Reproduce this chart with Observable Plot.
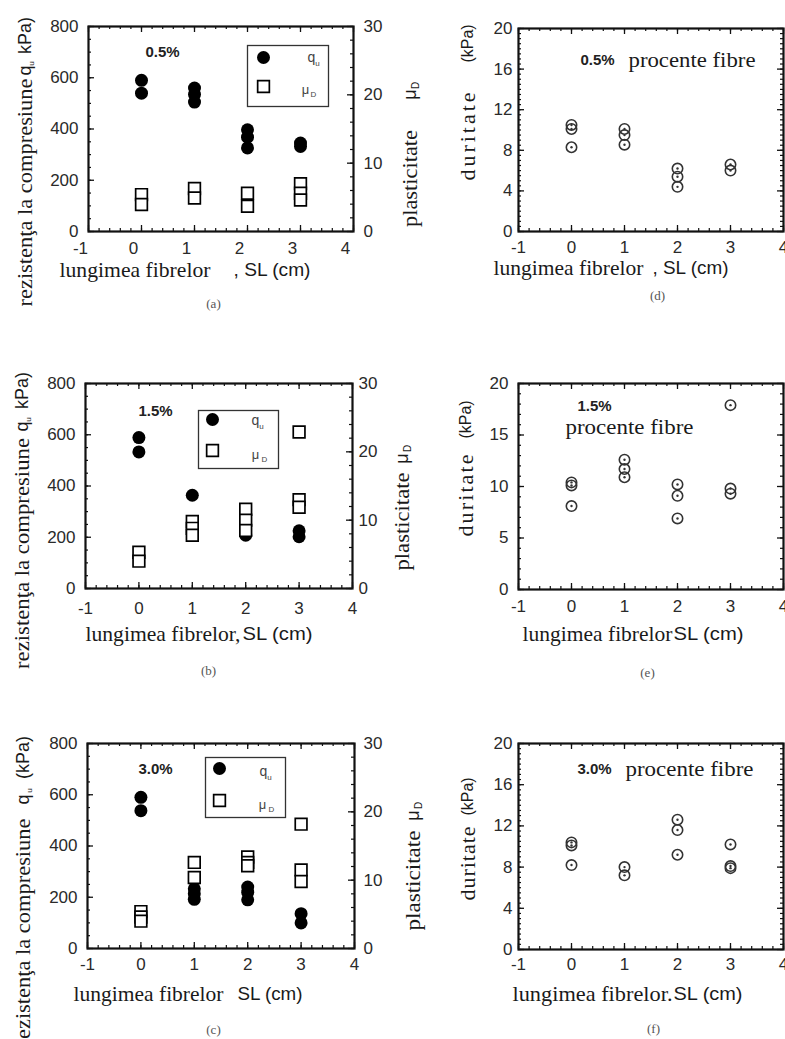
<!DOCTYPE html>
<html><head><meta charset="utf-8">
<script src="https://cdn.jsdelivr.net/npm/d3@7"></script>
<script src="https://cdn.jsdelivr.net/npm/@observablehq/plot@0.6"></script>
<style>
html,body{margin:0;padding:0;background:#fff;}
#root{position:relative;width:785px;height:1039px;overflow:hidden;background:#fff;}
#root svg{position:absolute;}
</style></head><body><div id="root"></div>
<script>
// ---------- tick labels ----------
const xTickLabels = [-1, 0, 1, 2, 3, 4];
const quTicks = [0, 200, 400, 600, 800];
const muTicks = [0, 10, 20, 30];
const durTicks4 = [0, 4, 8, 12, 16, 20];
const durTicks5 = [0, 5, 10, 15, 20];

// ---------- (a) 0.5 % fibre ----------
const a_qu_sl = [0, 0, 1, 1, 1, 2, 2, 2, 3, 3];
const a_qu    = [590, 540, 560, 535, 505, 397, 368, 326, 345, 332];
const a_mu_sl = [0, 0, 1, 1, 2, 2, 3, 3, 3];
const a_mu    = [5.4, 3.95, 6.3, 4.9, 5.6, 3.7, 7.0, 5.6, 4.6];
// ---------- (b) 1.5 % fibre ----------
const b_qu_sl = [0, 0, 1, 2, 3, 3];
const b_qu    = [589, 533, 364, 208, 225, 202];
const b_mu_sl = [0, 0, 1, 1, 1, 2, 2, 2, 3, 3, 3];
const b_mu    = [5.3, 4.0, 9.8, 8.8, 7.8, 11.6, 10.0, 8.5, 22.9, 13.0, 11.9];
// ---------- (c) 3.0 % fibre ----------
const c_qu_sl = [0, 0, 1, 1, 1, 2, 2, 2, 3, 3];
const c_qu    = [590, 538, 233, 214, 192, 240, 220, 190, 136, 100];
const c_mu_sl = [0, 0, 0, 1, 1, 2, 2, 2, 3, 3, 3];
const c_mu    = [5.4, 4.6, 4.0, 12.6, 10.4, 13.4, 12.6, 12.1, 18.2, 11.5, 9.8];
// ---------- duritate (d) (e) (f) ----------
const d_sl  = [0, 0, 0, 1, 1, 1, 2, 2, 2, 3, 3];
const d_dur = [10.5, 10.1, 8.3, 10.1, 9.5, 8.55, 6.2, 5.4, 4.4, 6.6, 6.0];
const e_sl  = [0, 0, 0, 1, 1, 1, 2, 2, 2, 3, 3, 3];
const e_dur = [10.4, 10.1, 8.1, 12.6, 11.7, 10.9, 10.2, 9.1, 6.9, 17.9, 9.8, 9.3];
const f_sl  = [0, 0, 0, 1, 1, 2, 2, 2, 3, 3, 3];
const f_dur = [10.4, 10.1, 8.2, 8.0, 7.2, 12.6, 11.6, 9.2, 10.2, 8.1, 7.9];

const rows = (sl, v) => sl.map((s, i) => ({sl: s, v: v[i]}));

const SERIF = "Liberation Serif, 'Times New Roman', serif";
const SANS = "Liberation Sans, Arial, sans-serif";
const root = document.getElementById("root");
const MU_K = 800 / 30;

function sub(s, x, y, fs, extra = {}) { return {s, x, y, f: SANS, fs, c: "#444", ...extra}; }

const panels = [
  {ox: 0, oy: 0, W: 440, H: 320, ML: 88, MR: 87, MT: 26, MB: 89, kind: "qu",
   qu: rows(a_qu_sl, a_qu), mu: rows(a_mu_sl, a_mu), xdx: -8, xPad: 10, yPad: 10, rPad: 10,
   legend: {x0: 247, x1: 328, y0: 45, y1: 106, cx: 263, cy: 57, sy: 86},
   labels: [
     {s: "0.5%", x: 162, y: 52, f: SANS, fs: 15, w: "bold", c: "#222"},
     sub("q", 311, 57, 14), sub("u", 317, 63, 8), sub("μ", 305, 89, 13), sub("D", 313, 94, 8),
     {s: "rezistenţa la compresiune", x: 25, y: 192, r: -90, len: 228},
     {s: "q", x: 25, y: 70, f: SANS, fs: 18, r: -90},
     {s: "u", x: 31, y: 63, f: SANS, fs: 8, r: -90},
     {s: "kPa)", x: 25, y: 35, f: SANS, fs: 18, r: -90},
     {s: "plasticitate", x: 410, y: 178, r: -90, len: 97},
     {s: "μ", x: 410, y: 94, f: SANS, fs: 18, r: -90},
     {s: "D", x: 415, y: 85, f: SANS, fs: 10, r: -90},
     {s: "lungimea fibrelor", x: 134.5, y: 270, len: 151},
     {s: ", SL (cm)", x: 271.5, y: 269, f: SANS, fs: 19, len: 77},
     {s: "(a)", x: 213, y: 303, fs: 13, c: "#555"}
   ]},
  {ox: 0, oy: 340, W: 440, H: 340, ML: 85, MR: 88, MT: 43, MB: 92, kind: "qu",
   qu: rows(b_qu_sl, b_qu), mu: rows(b_mu_sl, b_mu), xdx: 0, xPad: 13, yPad: 10, rPad: 6,
   legend: {x0: 198, x1: 278, y0: 410, y1: 468, cx: 212, cy: 419, sy: 450},
   labels: [
     {s: "1.5%", x: 155, y: 411, f: SANS, fs: 15, w: "bold", c: "#222"},
     sub("q", 255, 420, 14), sub("u", 261, 426, 8), sub("μ", 255, 454, 13), sub("D", 264, 459, 8),
     {s: "rezistenţa la compresiune", x: 22, y: 553, r: -90, len: 231},
     {s: "q", x: 22, y: 426, f: SANS, fs: 18, r: -90},
     {s: "u", x: 28, y: 419, f: SANS, fs: 8, r: -90},
     {s: "kPa)", x: 22, y: 390, f: SANS, fs: 18, r: -90},
     {s: "plasticitate", x: 402, y: 521, r: -90, len: 98},
     {s: "μ", x: 402, y: 458, f: SANS, fs: 18, r: -90},
     {s: "D", x: 407, y: 448, f: SANS, fs: 10, r: -90},
     {s: "lungimea fibrelor,", x: 162.5, y: 634, len: 155},
     {s: "SL (cm)", x: 277, y: 633, f: SANS, fs: 19, len: 70},
     {s: "(b)", x: 208, y: 670, fs: 13, c: "#555"}
   ]},
  {ox: 0, oy: 700, W: 440, H: 339, ML: 87, MR: 86, MT: 43, MB: 91, kind: "qu",
   qu: rows(c_qu_sl, c_qu), mu: rows(c_mu_sl, c_mu), xdx: 0, xPad: 9, yPad: 10, rPad: 9,
   legend: {x0: 205, x1: 285, y0: 757, y1: 817, cx: 219, cy: 768, sy: 800},
   labels: [
     {s: "3.0%", x: 155, y: 769, f: SANS, fs: 15, w: "bold", c: "#222"},
     sub("q", 263, 771, 14), sub("u", 269, 777, 8), sub("μ", 262, 804, 13), sub("D", 271, 809, 8),
     {s: "rezistenţa la compresiune", x: 23, y: 932, r: -90, len: 228},
     {s: "q", x: 23, y: 799, f: SANS, fs: 18, r: -90},
     {s: "u", x: 29, y: 790, f: SANS, fs: 8, r: -90},
     {s: "(kPa)", x: 23, y: 757, f: SANS, fs: 18, r: -90},
     {s: "plasticitate", x: 413, y: 880, r: -90, len: 100},
     {s: "μ", x: 413, y: 815, f: SANS, fs: 18, r: -90},
     {s: "D", x: 418, y: 805, f: SANS, fs: 10, r: -90},
     {s: "lungimea fibrelor", x: 148, y: 994, len: 150},
     {s: "SL (cm)", x: 269.5, y: 993, f: SANS, fs: 19, len: 65},
     {s: "(c)", x: 213, y: 1029, fs: 13, c: "#555"}
   ]},
  {ox: 440, oy: 0, W: 345, H: 320, ML: 78, MR: 2, MT: 28, MB: 89, kind: "dur",
   dur: rows(d_sl, d_dur), yTicks: durTicks4, yMinorStep: 0.5, xPad: 9, yPad: 6,
   labels: [
     {s: "0.5%", x: 597, y: 60, f: SANS, fs: 15, w: "bold", c: "#222"},
     {s: "procente fibre", x: 691.5, y: 60, len: 127},
     {s: "duritate", x: 467, y: 136, r: -90, fs: 22, len: 88, adj: "spacing"},
     {s: "(kPa)", x: 467, y: 43, f: SANS, fs: 16, r: -90},
     {s: "lungimea fibrelor", x: 568, y: 268, len: 150},
     {s: ", SL (cm)", x: 690, y: 267, f: SANS, fs: 19, len: 76},
     {s: "(d)", x: 657, y: 295, fs: 13, c: "#555"}
   ]},
  {ox: 440, oy: 340, W: 345, H: 340, ML: 78, MR: 2, MT: 43, MB: 91, kind: "dur",
   dur: rows(e_sl, e_dur), yTicks: durTicks5, yMinorStep: 1, xPad: 10, yPad: 10,
   labels: [
     {s: "1.5%", x: 594, y: 406, f: SANS, fs: 15, w: "bold", c: "#222"},
     {s: "procente fibre", x: 629, y: 427, len: 128},
     {s: "duritate", x: 465, y: 495, r: -90, fs: 22, len: 82, adj: "spacing"},
     {s: "(kPa)", x: 465, y: 419, f: SANS, fs: 16, r: -90},
     {s: "lungimea fibrelor", x: 597, y: 634, len: 150},
     {s: "SL (cm)", x: 708, y: 633, f: SANS, fs: 19, len: 70},
     {s: "(e)", x: 647, y: 672, fs: 13, c: "#555"}
   ]},
  {ox: 440, oy: 700, W: 345, H: 339, ML: 78, MR: 2, MT: 43, MB: 90, kind: "dur",
   dur: rows(f_sl, f_dur), yTicks: durTicks4, yMinorStep: 0.5, xPad: 8, yPad: 6,
   labels: [
     {s: "3.0%", x: 594, y: 769, f: SANS, fs: 15, w: "bold", c: "#222"},
     {s: "procente fibre", x: 689, y: 769, len: 128},
     {s: "duritate", x: 467, y: 863, r: -90, fs: 22, len: 74, adj: "spacing"},
     {s: "(kPa)", x: 467, y: 796, f: SANS, fs: 16, r: -90},
     {s: "lungimea fibrelor.", x: 592, y: 994, len: 160},
     {s: "SL (cm)", x: 707.5, y: 993, f: SANS, fs: 19, len: 69},
     {s: "(f)", x: 653, y: 1028, fs: 13, c: "#555"}
   ]}
];

function makePanel(p) {
  const FW = p.W - p.ML - p.MR, FH = p.H - p.MT - p.MB;
  const lab = t => Plot.text([t.s], {
    frameAnchor: "top-left", dx: t.x - p.ox - p.ML, dy: t.y - p.oy - p.MT,
    text: d => d, fontFamily: t.f || SERIF, fontSize: t.fs || 21,
    fontWeight: t.w || "normal", fill: t.c || "#1a1a1a",
    rotate: t.r || 0, textAnchor: "middle", lineAnchor: "middle"
  });
  const INK = "#111";
  const xMinor = d3.range(-1, 4.0001, 0.2);
  const common = [
    Plot.tickX(xMinor, {x: d => d, insetTop: FH - 3, stroke: INK, strokeWidth: 1.2}),
    Plot.tickX(xMinor, {x: d => d, insetBottom: FH - 3, stroke: INK, strokeWidth: 1.2}),
    Plot.tickX(xTickLabels, {x: d => d, insetTop: FH - 6, stroke: INK, strokeWidth: 1.3}),
    Plot.tickX(xTickLabels, {x: d => d, insetBottom: FH - 6, stroke: INK, strokeWidth: 1.3}),
    Plot.axisX(xTickLabels, {tickSize: 0, tickPadding: p.xPad, dx: p.xdx || 0, tickFormat: d => String(d), fill: "#2a2a2a"})
  ];
  let marks;
  let yDomain;
  if (p.kind === "qu") {
    yDomain = [0, 800];
    const yMinor = d3.range(0, 800.1, 50);
    const muMinor = d3.range(0, 30.01, 2);
    const L = p.legend;
    marks = [
      ...common,
      Plot.tickY(yMinor, {y: d => d, insetRight: FW - 3, stroke: INK, strokeWidth: 1.2}),
      Plot.tickY(quTicks, {y: d => d, insetRight: FW - 6, stroke: INK, strokeWidth: 1.3}),
      Plot.tickY(muMinor, {y: d => d * MU_K, insetLeft: FW - 3, stroke: INK, strokeWidth: 1.2}),
      Plot.tickY(muTicks, {y: d => d * MU_K, insetLeft: FW - 6, stroke: INK, strokeWidth: 1.3}),
      Plot.axisY(quTicks, {anchor: "left", tickSize: 0, tickPadding: p.yPad, tickFormat: d => String(d), fill: "#2a2a2a"}),
      Plot.text(muTicks, {y: d => d * MU_K, text: d => String(d), frameAnchor: "right", dx: p.rPad, textAnchor: "start", fill: "#2a2a2a"}),
      Plot.dot(p.qu, {x: "sl", y: "v", r: 6.5, fill: "#000"}),
      Plot.dot(p.mu, {x: "sl", y: d => d.v * MU_K, symbol: "square", r: 6.6, fill: "white", stroke: "#000", strokeWidth: 1.7}),
      Plot.frame({insetLeft: L.x0 - p.ox - p.ML, insetTop: L.y0 - p.oy - p.MT,
                  insetRight: p.ox + p.W - p.MR - L.x1, insetBottom: p.oy + p.H - p.MB - L.y1,
                  stroke: "#333", strokeWidth: 1.3}),
      Plot.dot([0], {frameAnchor: "top-left", dx: L.cx - p.ox - p.ML, dy: L.cy - p.oy - p.MT, r: 6.5, fill: "#000"}),
      Plot.dot([0], {frameAnchor: "top-left", dx: L.cx - p.ox - p.ML, dy: L.sy - p.oy - p.MT, symbol: "square", r: 6.6, fill: "white", stroke: "#000", strokeWidth: 1.7})
    ];
  } else {
    yDomain = [0, 20];
    const yMinor = d3.range(0, 20.001, p.yMinorStep);
    marks = [
      ...common,
      Plot.tickY(yMinor, {y: d => d, insetRight: FW - 3, stroke: INK, strokeWidth: 1.2}),
      Plot.tickY(p.yTicks, {y: d => d, insetRight: FW - 6, stroke: INK, strokeWidth: 1.3}),
      Plot.tickY(yMinor, {y: d => d, insetLeft: FW - 3, stroke: INK, strokeWidth: 1.2}),
      Plot.tickY(p.yTicks, {y: d => d, insetLeft: FW - 6, stroke: INK, strokeWidth: 1.3}),
      Plot.axisY(p.yTicks, {anchor: "left", tickSize: 0, tickPadding: p.yPad, tickFormat: d => String(d), fill: "#2a2a2a"}),
      Plot.dot(p.dur, {x: "sl", y: "v", r: 5.2, fill: "none", stroke: "#333", strokeWidth: 1.6}),
      Plot.dot(p.dur, {x: "sl", y: "v", r: 1.2, fill: "#333"})
    ];
  }
  marks.push(Plot.frame({stroke: INK, strokeWidth: 2.2}));
  p.labels.forEach(t => marks.push(lab(t)));
  const svg = Plot.plot({
    width: p.W, height: p.H,
    marginLeft: p.ML, marginRight: p.MR, marginTop: p.MT, marginBottom: p.MB,
    x: {domain: [-1, 4], label: null},
    y: {domain: yDomain, label: null},
    style: {fontFamily: SANS, fontSize: "17px", color: "#222", background: "transparent", overflow: "visible"},
    marks
  });
  svg.style.left = p.ox + "px";
  svg.style.top = p.oy + "px";
  p.labels.filter(t => t.len).forEach(t => {
    d3.select(svg).selectAll("text")
      .filter(function () { return this.textContent === t.s; })
      .attr("textLength", t.len).attr("lengthAdjust", t.adj || "spacingAndGlyphs");
  });
  root.appendChild(svg);
}
panels.forEach(makePanel);
</script>
</body></html>
